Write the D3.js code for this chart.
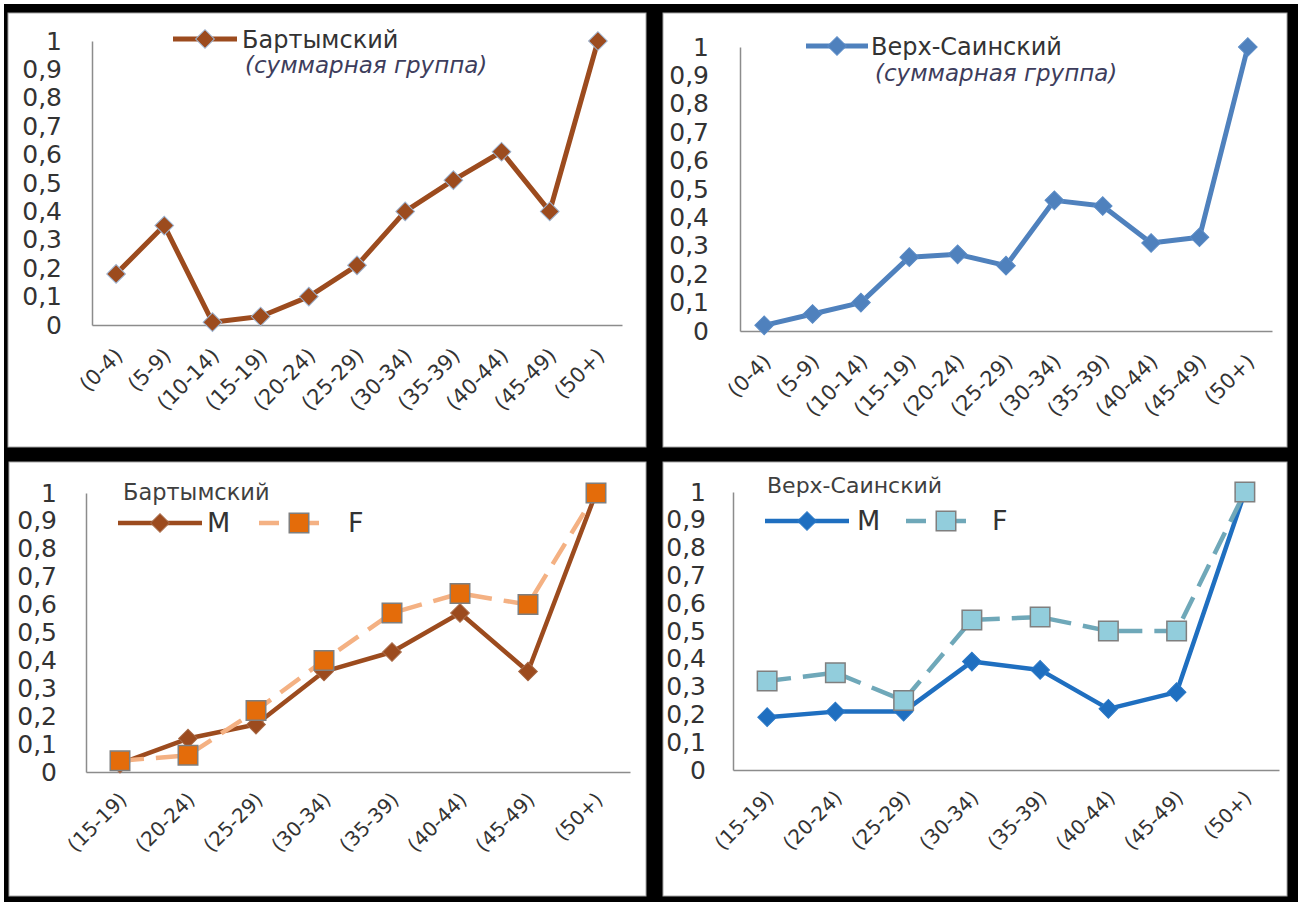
<!DOCTYPE html>
<html>
<head>
<meta charset="utf-8">
<script src="https://cdn.jsdelivr.net/npm/d3@7"></script>
<style>
	body { margin: 0; background: #fff; }
	svg { display: block; }
	text { font-family: "DejaVu Sans", sans-serif; }
</style>
</head>
<body>
<svg id="chart" width="1298" height="902"></svg>
<script>
// Data
const groupsAll = ["(0-4)", "(5-9)", "(10-14)", "(15-19)", "(20-24)", "(25-29)",
	"(30-34)", "(35-39)", "(40-44)", "(45-49)", "(50+)"];
const groupsAdult = ["(15-19)", "(20-24)", "(25-29)", "(30-34)", "(35-39)",
	"(40-44)", "(45-49)", "(50+)"];

const bartymTotal = [0.18, 0.35, 0.01, 0.03, 0.10, 0.21, 0.40, 0.51, 0.61, 0.40, 1];
const verkhTotal = [0.02, 0.06, 0.10, 0.26, 0.27, 0.23, 0.46, 0.44, 0.31, 0.33, 1];

const bartymM = [0.03, 0.12, 0.17, 0.36, 0.43, 0.57, 0.36, 1];
const bartymF = [0.04, 0.06, 0.22, 0.40, 0.57, 0.64, 0.60, 1];
const verkhM = [0.19, 0.21, 0.21, 0.39, 0.36, 0.22, 0.28, 1];
const verkhF = [0.32, 0.35, 0.25, 0.54, 0.55, 0.50, 0.50, 1];

const yTicks = [0, 0.1, 0.2, 0.3, 0.4, 0.5, 0.6, 0.7, 0.8, 0.9, 1];

const FONT = "DejaVu Sans";
const svg = d3.select("#chart");

// black frame behind the four chart boxes
svg.append("rect")
	.attr("x", 4).attr("y", 4)
	.attr("width", 1294).attr("height", 898)
	.attr("fill", "#000");

const boxes = [
	{ x: 8, y: 13, w: 638, h: 434 },
	{ x: 663, y: 13, w: 624, h: 434 },
	{ x: 9, y: 462, w: 637, h: 434 },
	{ x: 663, y: 462, w: 624, h: 434 }
];
svg.selectAll("rect.box")
	.data(boxes)
	.enter()
	.append("rect")
	.attr("class", "box")
	.attr("x", d => d.x).attr("y", d => d.y)
	.attr("width", d => d.w).attr("height", d => d.h)
	.attr("fill", "#fff")
	.attr("stroke", "#a6a6a6")
	.attr("stroke-width", 1);

const fmt = d => (d === 0 || d === 1) ? String(d) : d3.format(".1f")(d).replace(".", ",");
const textColor = "#333";

function drawMarker(g, type, cx, cy, style) {
	const size = type === "square" ? 380 : 175;
	g.append("path")
		.attr("d", d3.symbol(d3.symbolSquare, size)())
		.attr("transform", `translate(${cx},${cy})` + (type === "diamond" ? " rotate(45)" : ""))
		.attr("fill", style.fill)
		.attr("stroke", style.stroke)
		.attr("stroke-width", style.strokeWidth);
}

function drawPanel(p) {
	const g = svg.append("g");

	const x = d3.scaleBand()
		.domain(p.groups)
		.range([p.left, p.right])
		.padding(0);
	const y = d3.scaleLinear()
		.domain([0, 1])
		.range([p.bottom, p.top]);

	// y axis
	const yAxis = g.append("g")
		.attr("transform", `translate(${p.left},0)`)
		.call(d3.axisLeft(y).tickValues(yTicks).tickFormat(fmt).tickSize(0).tickPadding(p.yPad));
	yAxis.select(".domain").attr("stroke", "#8c8c8c").attr("stroke-width", 1.5);
	yAxis.selectAll("text")
		.attr("font-size", p.yFont)
		.attr("fill", textColor)
		.attr("font-family", FONT);

	// x axis
	const xAxis = g.append("g")
		.attr("transform", `translate(0,${p.bottom})`)
		.call(d3.axisBottom(x).tickSize(0).tickSizeOuter(0));
	xAxis.select(".domain").attr("stroke", "#8c8c8c").attr("stroke-width", 1.5);
	xAxis.selectAll("text")
		.attr("font-size", p.xFont)
		.attr("fill", textColor)
		.attr("font-family", FONT)
		.attr("text-anchor", "end")
		.attr("dy", null)
		.attr("y", 0)
		.attr("transform", `translate(${p.xShift[0]},${p.xShift[1]}) rotate(-45)`);

	const cx = d => x(d.g) + x.bandwidth() / 2;
	const line = d3.line().x(cx).y(d => y(d.v));

	p.series.forEach(s => {
		const pts = p.groups.map((gname, i) => ({ g: gname, v: s.values[i] }));
		g.append("path")
			.datum(pts)
			.attr("d", line)
			.attr("fill", "none")
			.attr("stroke", s.color)
			.attr("stroke-width", s.width)
			.attr("stroke-dasharray", s.dash || null)
			.attr("stroke-linejoin", "round");
		pts.forEach(d => drawMarker(g, s.marker, cx(d), y(d.v), s.markerStyle));
	});

	// legend
	const lg = p.legend;
	if (lg.title) {
		g.append("text")
			.attr("x", lg.title.x).attr("y", lg.title.y)
			.attr("font-size", lg.title.size)
			.attr("fill", "#3f3f3f")
			.text(lg.title.text);
	}
	lg.items.forEach((it, i) => {
		const s = p.series[i];
		g.append("line")
			.attr("x1", it.x1).attr("x2", it.x2)
			.attr("y1", it.y).attr("y2", it.y)
			.attr("stroke", s.color)
			.attr("stroke-width", s.width)
			.attr("stroke-dasharray", s.dash ? "20,20" : null);
		drawMarker(g, s.marker, (it.x1 + it.x2) / 2, it.y, s.markerStyle);
		g.append("text")
			.attr("x", it.tx).attr("y", it.ty)
			.attr("font-size", it.size)
			.attr("fill", textColor)
			.text(it.label);
		if (it.sub) {
			g.append("text")
				.attr("x", it.sub.x).attr("y", it.sub.y)
				.attr("font-size", it.sub.size)
				.attr("font-style", "italic")
				.attr("fill", "#3d3d5c")
				.text(it.sub.text);
		}
	});
}

const brown = "#9c4b1e";
const blue = "#4f81bd";
const blueDark = "#1f6fc0";

drawPanel({
	groups: groupsAll, left: 92, right: 622, top: 41, bottom: 325,
	yPad: 30, yFont: 25, xFont: 21, xShift: [8, 32],
	series: [{ values: bartymTotal, color: brown, width: 5, marker: "diamond",
		markerStyle: { fill: brown, stroke: "#9db3d0", strokeWidth: 1 } }],
	legend: { items: [{ x1: 173, x2: 237, y: 39, tx: 242, ty: 48, size: 24, label: "Бартымский",
		sub: { x: 245, y: 73, size: 23, text: "(суммарная группа)" } }] }
});

drawPanel({
	groups: groupsAll, left: 740, right: 1272, top: 47, bottom: 331,
	yPad: 31, yFont: 25, xFont: 21, xShift: [8, 32],
	series: [{ values: verkhTotal, color: blue, width: 5, marker: "diamond",
		markerStyle: { fill: blue, stroke: "#5a8bc6", strokeWidth: 1 } }],
	legend: { items: [{ x1: 806, x2: 868, y: 46, tx: 871, ty: 55, size: 24, label: "Верх-Саинский",
		sub: { x: 875, y: 81, size: 23, text: "(суммарная группа)" } }] }
});

drawPanel({
	groups: groupsAdult, left: 86, right: 630, top: 493, bottom: 772,
	yPad: 29, yFont: 25, xFont: 20, xShift: [8, 29],
	series: [
		{ values: bartymM, color: brown, width: 4.5, marker: "diamond",
			markerStyle: { fill: brown, stroke: "#a86a48", strokeWidth: 1 } },
		{ values: bartymF, color: "#f4b183", width: 4.5, dash: "24,12", marker: "square",
			markerStyle: { fill: "#e46c0a", stroke: "#7f7f7f", strokeWidth: 1.5 } }
	],
	legend: {
		title: { x: 123, y: 500, size: 22.5, text: "Бартымский" },
		items: [
			{ x1: 118, x2: 202, y: 523, tx: 207, ty: 532, size: 27, label: "M" },
			{ x1: 259, x2: 339, y: 523, tx: 348, ty: 532, size: 27, label: "F" }
		]
	}
});

drawPanel({
	groups: groupsAdult, left: 733, right: 1279, top: 492, bottom: 770,
	yPad: 27, yFont: 25, xFont: 20, xShift: [8, 29],
	series: [
		{ values: verkhM, color: blueDark, width: 4.5, marker: "diamond",
			markerStyle: { fill: blueDark, stroke: "#2a78c6", strokeWidth: 1 } },
		{ values: verkhF, color: "#6fa8b9", width: 4.5, dash: "24,12", marker: "square",
			markerStyle: { fill: "#92cddc", stroke: "#7f7f7f", strokeWidth: 1.5 } }
	],
	legend: {
		title: { x: 767, y: 493, size: 22, text: "Верх-Саинский" },
		items: [
			{ x1: 765, x2: 849, y: 521, tx: 857, ty: 530, size: 27, label: "M" },
			{ x1: 906, x2: 986, y: 521, tx: 992, ty: 530, size: 27, label: "F" }
		]
	}
});
</script>
</body>
</html>
